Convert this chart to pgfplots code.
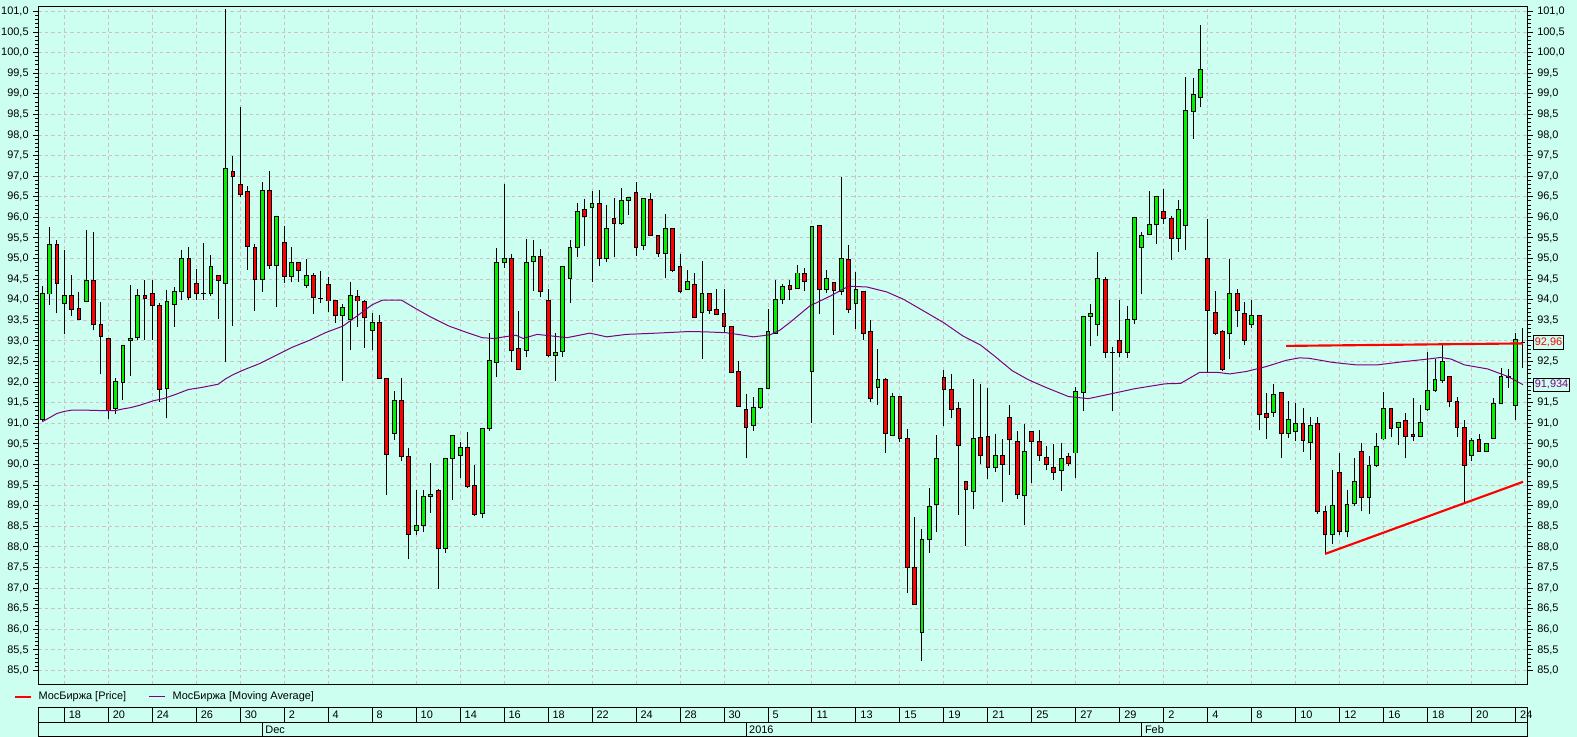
\documentclass[border=0pt]{standalone}
\usepackage{fontspec}
\setmainfont{Liberation Sans}
\usepackage{pgfplots}
\usepackage{pgfplotstable}
\pgfplotsset{compat=1.18}
\definecolor{bgc}{RGB}{204,255,240}
\definecolor{gridc}{RGB}{206,192,198}
\definecolor{cgreen}{RGB}{0,240,0}
\definecolor{cred}{RGB}{255,0,0}
\definecolor{mapurple}{RGB}{128,0,128}
\newcommand{\lbl}{\fontsize{8.2}{9.8}\selectfont}

\pgfplotstableread{
i o h l c
0 91.09 94.33 91.05 94.15
1 94.14 95.77 93.87 95.35
3 93.90 95.20 93.16 94.10
6 93.95 95.69 93.95 94.47
10 91.36 92.10 91.23 92.02
11 91.99 92.90 91.56 92.90
12 93.00 94.37 92.15 93.06
13 93.08 94.25 93.02 94.10
17 91.85 94.23 91.12 93.95
18 93.88 94.31 93.34 94.19
19 94.19 95.22 94.00 94.99
23 94.15 95.08 94.09 94.80
25 94.40 101.05 92.50 97.19
30 94.50 96.85 94.19 96.66
32 94.84 96.01 93.82 96.01
34 94.56 95.27 94.43 94.90
36 94.35 94.98 94.28 94.60
41 93.61 93.89 92.03 93.81
42 93.52 94.44 92.78 94.10
45 93.25 93.69 92.78 93.45
48 90.76 91.78 90.60 91.56
51 88.40 89.37 88.28 88.51
52 88.51 89.37 88.36 89.23
53 89.23 90.04 88.82 89.28
55 87.96 90.15 87.85 90.15
56 90.15 90.71 89.13 90.71
57 90.23 90.54 89.67 90.41
60 88.81 90.88 88.70 90.88
61 90.88 93.20 90.82 92.52
62 92.48 95.26 92.13 94.90
63 94.90 96.81 94.77 95.00
66 92.77 95.48 92.60 94.91
67 94.92 95.46 94.21 95.06
70 92.65 93.20 92.03 92.72
71 92.75 94.81 92.62 94.81
72 94.51 95.44 93.93 95.26
73 95.26 96.35 95.03 96.15
75 96.23 96.65 94.44 96.33
77 94.99 96.31 94.91 95.74
79 95.86 96.71 95.82 96.42
80 96.42 96.49 96.06 96.49
82 95.32 96.47 95.22 96.47
85 95.13 96.09 94.52 95.74
88 94.24 94.73 94.24 94.44
90 93.69 94.93 92.56 94.15
97 90.95 91.65 90.82 91.39
98 91.39 91.85 91.35 91.85
99 91.85 93.78 91.85 93.22
100 93.18 94.47 93.18 94.00
101 94.00 94.39 93.90 94.32
103 94.27 94.85 94.27 94.65
105 92.26 95.79 91.01 95.79
107 94.24 94.73 94.17 94.51
109 94.20 96.98 94.11 94.99
111 93.90 94.68 93.28 94.24
114 91.87 92.80 91.45 92.06
116 90.71 91.73 90.69 91.65
120 85.92 88.44 85.23 88.19
121 88.18 89.43 87.86 88.99
122 89.04 90.72 88.36 90.15
127 89.35 92.07 88.91 90.64
130 89.92 90.73 89.81 90.21
134 89.24 90.99 88.53 90.31
139 89.86 90.52 89.36 90.14
141 90.28 91.88 89.68 91.78
142 91.76 93.60 91.29 93.60
143 93.60 93.90 92.87 93.67
144 93.40 95.16 93.11 94.52
148 92.73 93.84 92.58 93.53
149 93.53 95.99 93.40 95.99
150 95.27 95.65 94.14 95.57
151 95.59 96.65 95.59 95.82
152 95.82 96.50 95.35 96.50
155 95.49 96.42 95.15 96.20
156 95.80 99.40 95.21 98.59
157 98.58 99.38 97.90 98.98
158 98.92 100.67 98.67 99.58
162 93.19 94.99 92.55 94.16
165 93.39 93.99 93.32 93.62
168 91.26 91.95 91.16 91.70
170 90.76 91.55 90.64 91.10
171 90.79 91.50 90.58 90.99
173 90.54 91.15 90.10 90.95
176 88.29 89.87 88.06 89.01
178 88.37 89.37 88.23 89.04
179 89.06 90.17 88.99 89.59
181 89.19 90.20 88.81 89.98
182 89.98 90.76 89.94 90.44
183 90.62 91.77 90.60 91.36
185 90.90 91.02 90.48 91.02
188 90.69 91.45 90.69 91.02
189 91.34 92.74 91.29 91.79
190 91.80 92.56 91.76 92.06
191 92.05 92.90 91.97 92.50
195 90.23 90.65 90.08 90.58
197 90.32 90.51 90.31 90.51
198 90.64 91.61 90.64 91.48
199 91.47 92.34 91.47 92.14
201 91.44 93.19 91.09 93.03
}\G

\pgfplotstableread{
i o h l c
2 95.35 95.46 93.67 94.40
4 94.10 94.61 93.60 93.77
5 93.79 94.18 93.51 93.51
7 94.47 95.64 93.26 93.39
8 93.40 93.94 92.19 93.10
9 93.06 93.06 91.10 91.31
14 94.10 94.49 93.02 94.02
15 94.15 94.47 93.02 93.86
16 93.86 93.91 91.53 91.83
20 94.99 95.28 94.00 94.05
21 94.39 94.75 94.00 94.15
22 94.15 95.38 94.00 94.15
24 94.60 94.60 93.54 94.47
26 97.12 97.50 93.36 96.99
27 96.81 98.67 96.50 96.56
28 96.64 96.77 94.73 95.30
29 95.28 95.36 93.73 94.50
31 96.66 97.13 94.75 94.84
33 95.40 95.80 94.41 94.56
35 94.90 94.90 94.43 94.70
37 94.60 94.65 93.66 94.05
38 94.03 94.69 93.92 94.03
39 94.36 94.56 93.71 93.97
40 93.98 93.98 93.44 93.61
43 94.07 94.24 93.34 93.97
44 93.95 94.00 92.83 93.58
46 93.44 93.62 92.08 92.08
47 92.09 92.09 89.27 90.24
49 91.56 92.11 90.08 90.19
50 90.19 90.40 87.70 88.31
54 89.38 89.41 86.98 87.96
58 90.41 90.79 89.43 89.47
59 89.48 89.99 88.75 88.79
64 95.00 95.11 92.49 92.77
65 92.81 93.73 92.31 92.31
68 95.06 95.23 94.07 94.21
69 93.99 94.27 92.60 92.65
74 96.18 96.44 95.30 96.01
76 96.33 96.66 94.81 95.00
78 95.98 96.47 95.03 95.84
81 96.61 96.86 95.07 95.27
83 96.44 96.59 95.57 95.57
84 95.57 95.57 95.04 95.13
86 95.72 95.72 94.67 94.72
87 94.80 95.12 94.17 94.21
89 94.36 94.64 93.56 93.56
91 94.15 94.15 93.65 93.75
92 93.76 94.27 93.64 93.64
93 93.66 94.25 93.20 93.35
94 93.35 93.35 92.23 92.23
95 92.26 92.51 91.41 91.41
96 91.34 91.71 90.15 90.90
102 94.35 94.49 94.00 94.25
104 94.63 94.76 94.21 94.44
106 95.81 95.81 93.66 94.24
108 94.41 94.41 93.15 94.22
110 94.97 95.34 93.68 93.76
112 94.19 94.22 93.02 93.19
113 93.22 93.50 91.52 91.60
115 92.06 92.09 90.29 90.76
117 91.65 91.65 90.54 90.64
118 90.64 90.86 86.87 87.49
119 87.49 88.73 86.60 86.60
123 92.11 92.29 90.93 91.83
124 91.83 92.19 91.12 91.34
125 91.35 91.51 88.77 90.47
126 89.60 89.60 88.02 89.39
128 90.65 91.96 90.02 90.23
129 90.69 91.86 89.66 89.92
131 90.21 90.63 89.08 90.01
132 91.13 91.45 89.74 90.60
133 90.57 90.81 89.16 89.27
135 90.79 90.79 89.54 90.55
136 90.55 90.85 90.09 90.21
137 90.16 90.44 89.86 90.01
138 89.92 90.49 89.62 89.81
140 90.19 90.29 89.97 90.02
145 94.50 94.56 92.59 92.73
146 92.73 92.85 91.29 92.73
147 93.01 94.00 92.62 92.73
153 96.15 96.68 95.85 95.97
154 95.98 96.04 94.96 95.49
159 95.01 95.95 92.24 93.74
160 93.70 94.21 93.15 93.19
161 93.23 93.26 92.26 92.30
163 94.16 94.26 93.35 93.73
164 93.67 93.95 92.89 93.02
166 93.61 93.61 90.85 91.21
167 91.23 91.74 90.63 91.15
169 91.74 91.74 90.15 90.76
172 90.99 91.37 90.31 90.58
174 90.99 91.15 88.81 88.86
175 88.87 88.99 87.83 88.29
177 89.80 90.28 88.29 88.37
180 90.31 90.52 88.87 89.19
184 91.36 91.36 90.66 90.87
186 91.07 91.24 90.15 90.69
187 90.72 91.61 90.58 90.67
192 92.13 92.13 91.39 91.53
193 91.53 91.63 90.68 90.90
194 90.90 91.09 89.10 89.98
196 90.60 90.74 90.32 90.32
200 92.13 92.31 91.87 92.11
202 92.97 93.31 92.34 92.96
}\R

\pgfplotstableread{
x y lab
3 0.5 18
9 0.5 20
15 0.5 24
21 0.5 26
27 0.5 30
33 0.5 2
39 0.5 4
45 0.5 8
51 0.5 10
57 0.5 14
63 0.5 16
69 0.5 18
75 0.5 22
81 0.5 24
87 0.5 28
93 0.5 30
99 0.5 5
105 0.5 11
111 0.5 13
117 0.5 15
123 0.5 19
129 0.5 21
135 0.5 25
141 0.5 27
147 0.5 29
153 0.5 2
159 0.5 4
165 0.5 8
171 0.5 10
177 0.5 12
183 0.5 16
189 0.5 18
195 0.5 20
201 0.5 24
}\days

\pgfplotstableread{
x y lab
30 0.5 Dec
96 0.5 2016
150 0.5 Feb
}\months

\pgfplotsset{
  ebar/.style={forget plot, draw=none, mark=none,
    error bars/y dir=plus, error bars/y explicit, error bars/error mark=none,
    error bars/error bar style={draw=#1, solid}},
  rowaxis/.style={scale only axis, width=1116.9pt, xmin=-0.55, xmax=202.62,
    ymin=0, ymax=1, ytick=\empty, xticklabels={}, tick style={draw=none},
    major tick length=0pt, xmajorgrids, grid style={black, solid, line width=0.75pt},
    axis line style={black, line width=0.75pt}, clip=false},
}

\begin{document}
\begin{tikzpicture}
\fill[bgc] (-28.725pt,-39.375pt) rectangle (1154.025pt,513.375pt);

\begin{axis}[
  at={(0pt,0pt)}, anchor=south west,
  scale only axis, width=1116.9pt, height=508.5pt,
  xmin=-0.55, xmax=202.62, ymin=84.66, ymax=101.12,
  xtick={3,9,...,201}, xticklabels={}, xtick style={draw=none},
  ytick={85,85.5,...,101}, minor ytick={85,85.1,...,101}, ytick pos=left,
  tick align=outside, major tick length=3.75pt, minor tick length=2.25pt,
  tick style={black, line width=0.75pt},
  grid=major, grid style={gridc, dash pattern=on 2.6pt off 2.2pt, line width=0.75pt},
  axis line style={black, line width=0.75pt},
  tick label style={font=\lbl},
  yticklabel style={/pgf/number format/fixed, /pgf/number format/fixed zerofill,
    /pgf/number format/precision=1, /pgf/number format/use comma,
    /pgf/number format/assume math mode=true},
  scaled y ticks=false,
  legend image code/.code={\draw[#1] (0pt,0pt) -- (12pt,0pt);},
  legend style={at={(-0.01632,-0.01844)}, anchor=west, draw=none, fill=none,
    inner sep=0pt, outer sep=0pt, font=\lbl, legend columns=2,
    /tikz/every even column/.append style={column sep=14.5pt}},
  legend cell align=left,
]
% wicks
\addplot[ebar=black, error bars/error bar style={line width=0.75pt}]
  table[x=i, y=l, y error plus expr={\thisrow{h}-\thisrow{l}}] {\G};
\addplot[ebar=black, error bars/error bar style={line width=0.75pt}]
  table[x=i, y=l, y error plus expr={\thisrow{h}-\thisrow{l}}] {\R};
% bodies outline
\addplot[ebar=black, error bars/error bar style={line width=3.6pt}]
  table[x=i, y expr={\thisrow{o}-0.012}, y error plus expr={\thisrow{c}-\thisrow{o}+0.024}] {\G};
\addplot[ebar=black, error bars/error bar style={line width=3.6pt}]
  table[x=i, y expr={\thisrow{c}-0.012}, y error plus expr={\thisrow{o}-\thisrow{c}+0.024}] {\R};
% bodies fill
\addplot[ebar=cgreen, error bars/error bar style={line width=2.1pt}]
  table[x=i, y expr={\thisrow{o}+0.012}, y error plus expr={max(\thisrow{c}-\thisrow{o}-0.024,0)}] {\G};
\addplot[ebar=cred, error bars/error bar style={line width=2.1pt}]
  table[x=i, y expr={\thisrow{c}+0.012}, y error plus expr={max(\thisrow{o}-\thisrow{c}-0.024,0)}] {\R};
% moving average
\addplot[forget plot, mapurple, line width=0.75pt] coordinates {
(0,91.04) (1,91.14) (2,91.24) (3,91.29) (4,91.32) (6,91.32) (8,91.31) (10,91.31)
(11,91.35) (12,91.38) (13.3,91.44) (15.2,91.55) (16.5,91.60) (18,91.69) (19.9,91.82)
(21.7,91.87) (24,91.95) (25,92.08) (26,92.18) (27.5,92.30) (29.5,92.44) (32,92.66)
(34,92.84) (36.5,93.02) (38.6,93.20) (41,93.36) (43.2,93.64) (45,93.88) (46.4,93.99)
(49,93.99) (51,93.78) (53,93.58) (55.5,93.36) (58,93.20) (60,93.08) (61.7,93.06)
(63,93.10) (64.6,93.14) (65.6,93.06) (67.5,93.16) (71.6,93.08) (74.7,93.19) (77,93.10)
(79.7,93.16) (83.8,93.19) (88.3,93.23) (90.6,93.22) (93.3,93.20) (95.6,93.14) (97,93.10)
(99.3,93.15) (100.6,93.26) (102,93.45) (104.7,93.85) (107.5,94.09) (110,94.33)
(112.5,94.31) (115.2,94.19) (117.5,94.01) (120.6,93.69) (123,93.44) (125.6,93.12)
(128,92.90) (130,92.62) (132.3,92.28) (134.5,92.06) (136.8,91.88) (140,91.65)
(142.7,91.60) (145.9,91.72) (149,91.84) (153.2,91.96) (155.3,91.97) (157.9,92.24)
(160.2,92.24) (162,92.20) (164.3,92.26) (167,92.38) (169.7,92.53) (171.5,92.59)
(172.8,92.58) (176,92.48) (179.2,92.42) (182.2,92.42) (185.8,92.50) (189,92.56)
(190.8,92.60) (192.2,92.56) (194,92.42) (197.2,92.32) (199.9,92.14) (202,91.94)
};
% trend lines
\addplot[forget plot, cred, line width=1.6pt] coordinates {(169.7,92.88) (202.0,92.94)};
\addplot[forget plot, cred, line width=1.6pt] coordinates {(175.0,87.83) (202.0,89.58)};
\addlegendimage{draw=cred, line width=1pt}
\addlegendentry{\hspace{3.5pt}МосБиржа [Price]}
\addlegendimage{draw=mapurple, line width=0.75pt}
\addlegendentry{\hspace{3.5pt}МосБиржа [Moving Average]}
\coordinate (lp) at (axis cs:202.62,92.96);
\coordinate (lm) at (axis cs:202.62,91.934);
\end{axis}

\begin{axis}[
  at={(0pt,0pt)}, anchor=south west,
  scale only axis, width=1116.9pt, height=508.5pt,
  xmin=-0.55, xmax=202.62, ymin=84.66, ymax=101.12,
  axis x line=none, axis y line*=right,
  ytick={85,85.5,...,91.5,92.5,93.5,94,...,101},
  extra y ticks={92,93}, extra y tick labels={},
  minor ytick={85,85.1,...,101}, ytick pos=right,
  tick align=outside, major tick length=3.75pt, minor tick length=2.25pt,
  tick style={black, line width=0.75pt},
  axis line style={black, line width=0.75pt},
  tick label style={font=\lbl},
  yticklabel style={/pgf/number format/fixed, /pgf/number format/fixed zerofill,
    /pgf/number format/precision=1, /pgf/number format/use comma,
    /pgf/number format/assume math mode=true},
  scaled y ticks=false,
]
\end{axis}

\begin{axis}[rowaxis, at={(0pt,-28.35pt)}, anchor=south west, height=10.95pt,
  xtick={3,9,...,201}]
\addplot[only marks, mark size=0pt, nodes near coords, point meta=explicit symbolic,
  nodes near coords style={anchor=west, font=\lbl, inner sep=0pt, xshift=3.2pt}]
  table[x=x, y=y, meta=lab] {\days};
\end{axis}

\begin{axis}[rowaxis, at={(0pt,-39.375pt)}, anchor=south west, height=11.025pt,
  xtick={30,96,150}]
\addplot[only marks, mark size=0pt, nodes near coords, point meta=explicit symbolic,
  nodes near coords style={anchor=west, font=\lbl, inner sep=0pt, xshift=2.2pt}]
  table[x=x, y=y, meta=lab] {\months};
\end{axis}

\node[anchor=west, xshift=4.1pt, draw=black, line width=0.75pt, fill=bgc, text=cred,
  font=\lbl, inner xsep=1pt, inner ysep=1.6pt] at (lp) {92,96};
\node[anchor=west, xshift=4.1pt, draw=black, line width=0.75pt, fill=bgc, text=mapurple,
  font=\lbl, inner xsep=1pt, inner ysep=1.6pt] at (lm) {91,934};

\pgfresetboundingbox
\path[use as bounding box] (-28.725pt,-39.375pt) rectangle (1154.025pt,513.375pt);
\end{tikzpicture}
\end{document}
